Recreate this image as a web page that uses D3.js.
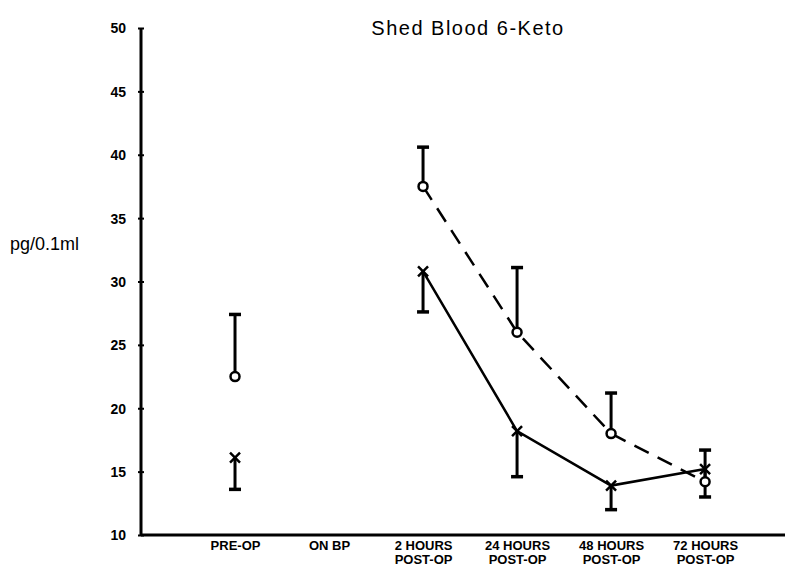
<!DOCTYPE html>
<html>
<head>
<meta charset="utf-8">
<script src="https://cdn.jsdelivr.net/npm/d3@7"></script>
<style>
  body { margin: 0; background: #fff; }
  .axis text { font-family: "Liberation Sans Narrow", "Arial Narrow", "Liberation Sans", sans-serif; font-weight: bold; font-size: 13px; fill: #000; }
</style>
</head>
<body>
<div id="graph_window"></div>
<script>
// data
var categories = [["PRE-OP"], ["ON BP"], ["2 HOURS", "POST-OP"], ["24 HOURS", "POST-OP"], ["48 HOURS", "POST-OP"], ["72 HOURS", "POST-OP"]];
var yTicks = [10, 15, 20, 25, 30, 35, 40, 45, 50];

// circle series (dashed line), error bar end
var circleMean = [22.5, null, 37.5, 26.0, 18.0, 14.2];
var circleErr  = [27.4, null, 40.6, 31.1, 21.2, 16.7];

// cross series (solid line), error bar end
var crossMean = [16.1, null, 30.8, 18.2, 13.9, 15.2];
var crossErr  = [13.6, null, 27.6, 14.6, 12.0, 13.0];

// which points are joined by lines (PRE-OP stands alone)
var joinedFrom = 2;

var width = 795, height = 576;
var margin = {top: 28, right: 10, bottom: 41, left: 141};

var svg = d3.select("#graph_window").append("svg")
    .attr("width", width)
    .attr("height", height);

// set the ranges
var x = d3.scaleLinear().domain([0, 6.85]).range([margin.left, width - margin.right]);
var y = d3.scaleLinear().domain([10, 50]).range([height - margin.bottom, margin.top]);

// Y axis
var yAxis = svg.append("g")
    .attr("class", "axis")
    .attr("transform", "translate(" + margin.left + ",0)")
    .call(d3.axisLeft(y).tickValues(yTicks).tickSize(3).tickPadding(12));
yAxis.select(".domain").attr("stroke-width", 3).attr("d", "M0," + y(50) + "V" + y(10));
yAxis.selectAll(".tick line").attr("x2", 3).attr("x1", -3).attr("stroke-width", 2);
yAxis.selectAll(".tick text").attr("dy", "0.35em").style("font-size", "14px");

// X axis
var xAxis = svg.append("g")
    .attr("class", "axis")
    .attr("transform", "translate(0," + y(10) + ")")
    .call(d3.axisBottom(x).tickValues(d3.range(1, 7)).tickSize(0).tickFormat(""));
xAxis.select(".domain").attr("stroke-width", 3).attr("d", "M" + x(0) + ",0H" + x(6.85));

xAxis.selectAll(".tick").each(function(d, i) {
  var t = d3.select(this).append("text")
      .attr("text-anchor", "middle")
      .attr("y", 15);
  categories[i].forEach(function(s, j) {
    t.append("tspan").attr("x", 0).attr("dy", j === 0 ? 0 : 14).text(s);
  });
});

// lines
var line = d3.line()
    .defined(function(d) { return d[1] != null; })
    .x(function(d) { return x(d[0] + 1); })
    .y(function(d) { return y(d[1]); });

function pairs(arr) {
  return arr.map(function(v, i) { return [i, v]; }).filter(function(d) { return d[0] >= joinedFrom; });
}

svg.append("path")
    .datum(pairs(circleMean))
    .attr("fill", "none")
    .attr("stroke", "#000")
    .attr("stroke-width", 2.5)
    .attr("stroke-dasharray", "16,10")
    .attr("d", line);

svg.append("path")
    .datum(pairs(crossMean))
    .attr("fill", "none")
    .attr("stroke", "#000")
    .attr("stroke-width", 2.5)
    .attr("d", line);

// error bars
function errorBars(mean, err) {
  var data = mean.map(function(v, i) { return {i: i, m: v, e: err[i]}; }).filter(function(d) { return d.m != null; });
  var g = svg.append("g").attr("stroke", "#000");
  g.selectAll("line.bar").data(data).enter().append("line")
      .attr("class", "bar")
      .attr("stroke-width", 3)
      .attr("x1", function(d) { return x(d.i + 1); })
      .attr("x2", function(d) { return x(d.i + 1); })
      .attr("y1", function(d) { return y(d.m); })
      .attr("y2", function(d) { return y(d.e); });
  g.selectAll("line.cap").data(data).enter().append("line")
      .attr("class", "cap")
      .attr("stroke-width", 3.5)
      .attr("x1", function(d) { return x(d.i + 1) - 6; })
      .attr("x2", function(d) { return x(d.i + 1) + 6; })
      .attr("y1", function(d) { return y(d.e); })
      .attr("y2", function(d) { return y(d.e); });
}
errorBars(circleMean, circleErr);
errorBars(crossMean, crossErr);

// circle markers
svg.selectAll("circle.pt")
    .data(circleMean.map(function(v, i) { return [i, v]; }).filter(function(d) { return d[1] != null; }))
    .enter().append("circle")
    .attr("class", "pt")
    .attr("cx", function(d) { return x(d[0] + 1); })
    .attr("cy", function(d) { return y(d[1]); })
    .attr("r", 4.5)
    .attr("fill", "#fff")
    .attr("stroke", "#000")
    .attr("stroke-width", 2.5);

// cross markers
var crosses = svg.selectAll("g.cross")
    .data(crossMean.map(function(v, i) { return [i, v]; }).filter(function(d) { return d[1] != null; }))
    .enter().append("g")
    .attr("class", "cross")
    .attr("transform", function(d) { return "translate(" + x(d[0] + 1) + "," + y(d[1]) + ")"; });
crosses.append("path")
    .attr("d", "M-5,-5L5,5M-5,5L5,-5")
    .attr("stroke", "#000")
    .attr("stroke-width", 2.5);

// title
svg.append("text")
    .attr("x", 468)
    .attr("y", 35)
    .attr("text-anchor", "middle")
    .style("font-family", "'Liberation Sans', Arial, sans-serif")
    .style("font-size", "20px")
    .style("letter-spacing", "1.5px")
    .text("Shed Blood 6-Keto");

// y label
svg.append("text")
    .attr("x", 10)
    .attr("y", 250)
    .style("font-family", "'Liberation Sans', Arial, sans-serif")
    .style("font-size", "18px")
    .text("pg/0.1ml");
</script>
</body>
</html>
